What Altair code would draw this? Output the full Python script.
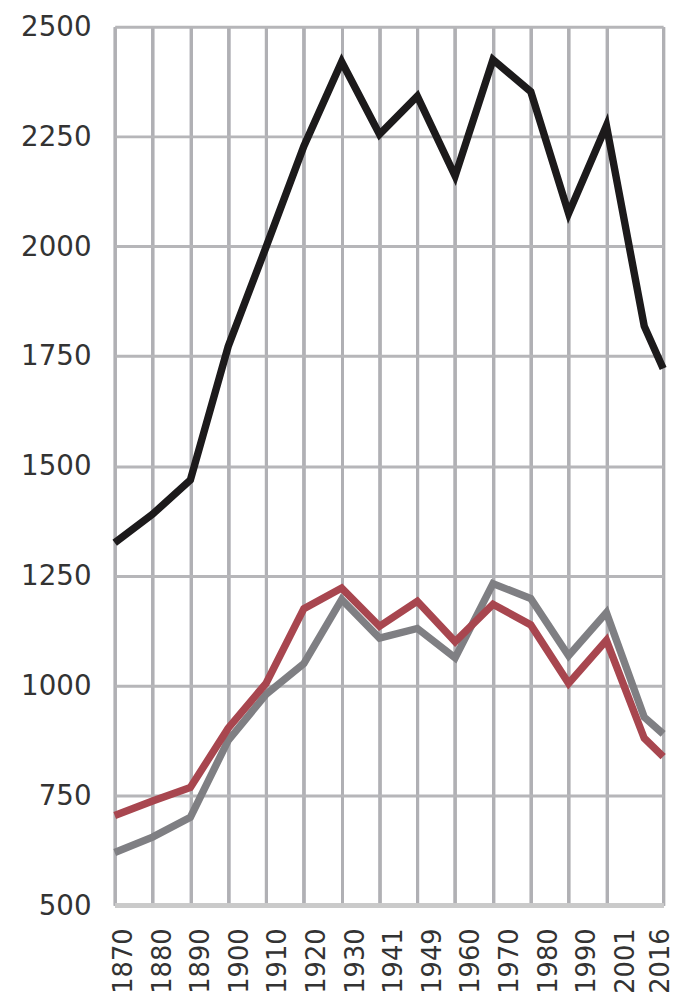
import altair as alt
import pandas as pd

# x positions of data points (index-like, 2011/2016 closer together)
years = [1870, 1880, 1890, 1900, 1910, 1920, 1930, 1941, 1949, 1960, 1970, 1980, 1990, 2001, 2011, 2016]
xpos = [0, 1, 2, 3, 4, 5, 6, 7, 8, 9, 10, 11, 12, 13, 14, 14.5]

black = [1325, 1390, 1468, 1772, 1998, 2228, 2420, 2255, 2342, 2160, 2425, 2352, 2075, 2275, 1818, 1722]
red = [704, 737, 768, 903, 1005, 1175, 1222, 1135, 1192, 1100, 1185, 1138, 1005, 1103, 880, 838]
gray = [620, 655, 700, 875, 980, 1050, 1196, 1108, 1130, 1063, 1232, 1198, 1068, 1166, 928, 890]

x_labels = ["1870", "1880", "1890", "1900", "1910", "1920", "1930", "1941", "1949",
            "1960", "1970", "1980", "1990", "2001", "2016"]
x_grid = [0, 1, 2, 3, 4, 5, 6, 7, 8, 9, 10, 11, 12, 13, 14.5]
y_ticks = [500, 750, 1000, 1250, 1500, 1750, 2000, 2250, 2500]

series_names = ["gray", "red", "black"]
series_colors = ["#7f7f83", "#a8464f", "#1c1a1b"]

rows = []
for name, vals in zip(series_names, [gray, red, black]):
    for y, xp, v in zip(years, xpos, vals):
        rows.append({"series": name, "year": y, "xp": xp, "value": v})
df = pd.DataFrame(rows)

lines = alt.Chart(df).mark_line(strokeWidth=7.5, strokeJoin="miter").encode(
    x=alt.X("xp:Q",
            scale=alt.Scale(domain=[0, 14.5], nice=False, zero=False),
            axis=alt.Axis(values=x_grid, labels=False, ticks=False, title=None,
                          orient="bottom", domain=True, domainColor="#cacaca",
                          domainWidth=5, grid=True, gridColor="#b0b0b4",
                          gridWidth=3)),
    y=alt.Y("value:Q",
            scale=alt.Scale(domain=[500, 2500], nice=False, zero=False),
            axis=alt.Axis(values=y_ticks, title=None, ticks=False, domain=False,
                          format="d",
                          grid=True, gridColor="#b6b6b9", gridWidth=3,
                          labelFont="DejaVu Sans", labelFontSize=28,
                          labelColor="#333333", labelPadding=24,
                          labelBaseline="middle", labelOffset=1,
                          labelOverlap=False)),
    color=alt.Color("series:N", scale=alt.Scale(domain=series_names, range=series_colors),
                    legend=None),
    order=alt.Order("year:Q"),
).properties(width=555, height=889)

# draw series in order (gray, red, black on top)
layers = []
for name in series_names:
    layers.append(lines.transform_filter(alt.datum.series == name))

labels_df = pd.DataFrame({"label": x_labels})
label_layer = alt.Chart(labels_df).mark_point(opacity=0).encode(
    x=alt.X("label:O",
            sort=x_labels,
            scale=alt.Scale(type="point", padding=0.1024, align=0.75),
            axis=alt.Axis(orient="bottom", title=None, ticks=False, domain=False,
                          grid=False, labelAngle=270, labelAlign="right",
                          labelBaseline="middle", labelFont="DejaVu Sans",
                          labelFontSize=26, labelColor="#333333",
                          labelPadding=23,
                          labelOffset={"condition": {"test": "datum.value == '2016'", "value": -1},
                                       "value": 3},
                          labelOverlap=False))
).properties(width=555, height=889)

chart = alt.layer(*layers, label_layer).resolve_scale(x="independent").properties(
    padding={"left": 108, "top": 13, "right": 13, "bottom": 84},
    autosize=alt.AutoSizeParams(type="none"),
    background="white",
).configure_view(strokeWidth=0)

chart.save("out.html", embed_options={"renderer": "svg", "actions": False})
